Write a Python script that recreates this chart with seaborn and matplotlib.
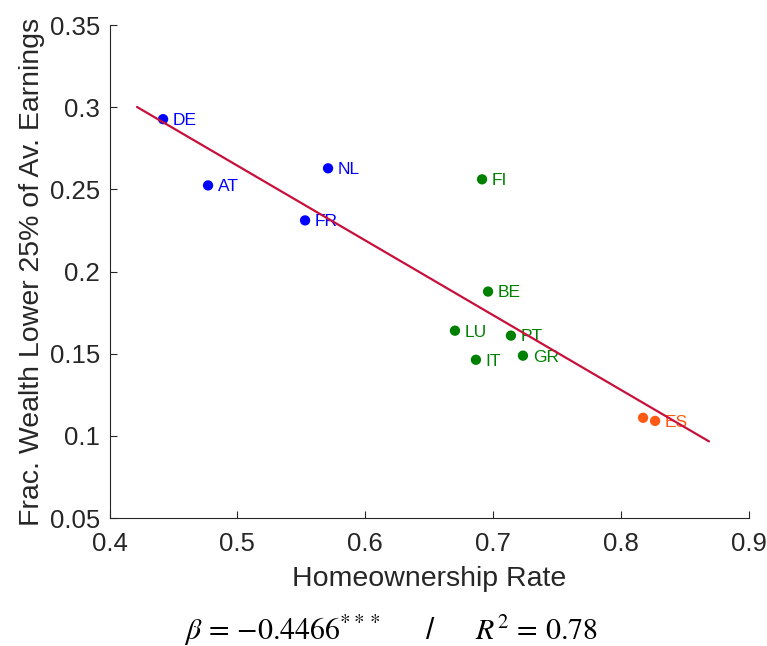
import matplotlib
matplotlib.use("Agg")
import matplotlib.pyplot as plt
import seaborn as sns
import numpy as np
import pandas as pd

# values
countries = ["DE", "AT", "NL", "FR", "FI", "BE", "LU", "PT", "IT", "GR", "", "ES"]
homeownership = [0.4419, 0.4771, 0.5710, 0.5530, 0.6915, 0.6962, 0.6703, 0.7141,
                 0.6867, 0.7235, 0.8175, 0.8269]
frac_wealth = [0.2927, 0.2524, 0.2628, 0.2311, 0.2561, 0.1878, 0.1640, 0.1610,
               0.1463, 0.1488, 0.1110, 0.1091]
groups = ["core", "core", "core", "core", "mid", "mid", "mid", "mid",
          "mid", "mid", "south", "south"]
group_colors = {"core": "#0000ff", "mid": "#008000", "south": "#ff5a14"}
fit_range = [0.4215, 0.8691]
x_ticks = [0.4, 0.5, 0.6, 0.7, 0.8, 0.9]
y_ticks = [0.05, 0.1, 0.15, 0.2, 0.25, 0.3, 0.35]
y_ticklabels = ["0.05", "0.1", "0.15", "0.2", "0.25", "0.3", "0.35"]

df = pd.DataFrame({"country": countries, "x": homeownership,
                   "y": frac_wealth, "group": groups})

sns.set_theme(style="ticks")
plt.rcParams["font.family"] = ["Liberation Sans", "DejaVu Sans"]
plt.rcParams["mathtext.fontset"] = "stix"

fig = plt.figure(figsize=(7.67, 6.46), dpi=100)
ax = fig.add_axes([0.1428, 0.1981, 0.8331, 0.7632])

sns.scatterplot(data=df, x="x", y="y", hue="group", palette=group_colors,
                s=55, edgecolor="none", legend=False, ax=ax, zorder=2)

for _, r in df.iterrows():
    if r["country"]:
        ax.annotate(r["country"], (r["x"], r["y"]), xytext=(7, -1),
                    textcoords="offset points", va="center", ha="left",
                    fontsize=12.5, color=group_colors[r["group"]], zorder=3)

# OLS fit drawn over the extended range
slope, icpt = np.polyfit(df["x"], df["y"], 1)
xs = np.array(fit_range)
ax.plot(xs, icpt + slope * xs, color="#c8103c", lw=1.6, zorder=4)

ax.set_xlim(0.4, 0.9)
ax.set_ylim(0.05, 0.35)
ax.set_xticks(x_ticks)
ax.set_xticklabels([f"{t:g}" for t in x_ticks])
ax.set_yticks(y_ticks)
ax.set_yticklabels(y_ticklabels)
ax.tick_params(direction="in", length=5, width=0.8, labelsize=18.5,
               colors="#262626")
ax.tick_params(axis="x", pad=10)
ax.tick_params(axis="y", pad=7)
for side in ["top", "right"]:
    ax.spines[side].set_visible(False)
for side in ["left", "bottom"]:
    ax.spines[side].set_color("#262626")
    ax.spines[side].set_linewidth(0.8)

ax.set_xlabel("Homeownership Rate", fontsize=20.5, color="#262626", labelpad=7)
ax.set_ylabel("Frac. Wealth Lower 25% of Av. Earnings", fontsize=20.5,
              color="#262626", labelpad=3)

fig.text(0.509, 0.01,
         r"$\beta\,=\,{-}0.4466^{***}$     /     $R^2\,=\,0.78$",
         ha="center", va="baseline", fontsize=21.5, color="black")

fig.savefig("out.png", dpi=100)
